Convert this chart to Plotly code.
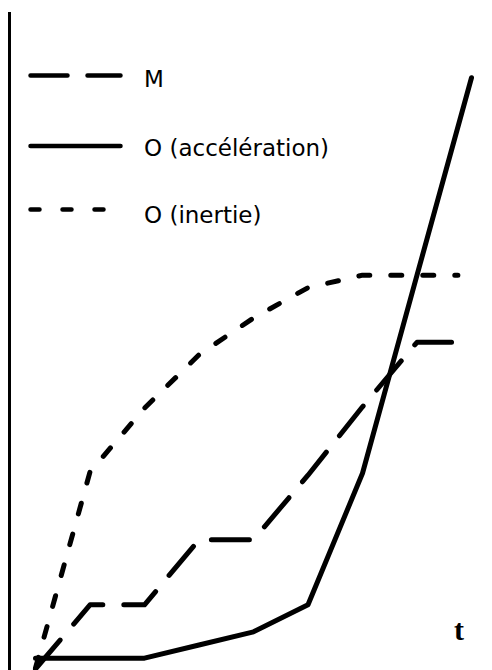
import plotly.graph_objects as go

# ---- data ----
t_accel = [0, 1, 2, 3, 4, 5, 6, 7, 8]
o_acceleration = [1.5, 1.5, 1.5, 3.5, 5.5, 9.6, 29.6, 59.7, 89.7]

t_m = [0, 1, 2, 3, 4, 5, 6, 7, 8]
m_values = [-0.15, 9.6, 9.6, 19.5, 19.5, 29.3, 39.7, 49.5, 49.5]

t_inertie = [0, 1, 2, 3, 4, 5, 6, 7, 7.75]
o_inertie = [0, 29.8, 39.5, 47.6, 53.2, 57.8, 59.7, 59.7, 59.7]

legend_labels = ["M", "O (accélération)", "O (inertie)"]
axis_label = "t"

# ---- layout helpers ----
W, H = 492, 670
ML, MR, MT, MB = 11, 0, 12, 0
PW, PH = W - ML - MR, H - MT - MB


def px(xp):
    return (xp - ML) / PW


def py(yp):
    return 1 - (yp - MT) / PH


M_DASH = "38px,21px"
I_DASH = "11px,21px"
LW = 5

fig = go.Figure()
fig.add_trace(go.Scatter(x=t_m, y=m_values, mode="lines",
                         line=dict(color="black", width=LW, dash=M_DASH),
                         name=legend_labels[0], showlegend=False))
fig.add_trace(go.Scatter(x=t_accel, y=o_acceleration, mode="lines",
                         line=dict(color="black", width=LW),
                         name=legend_labels[1], showlegend=False))
fig.add_trace(go.Scatter(x=t_inertie, y=o_inertie, mode="lines",
                         line=dict(color="black", width=LW, dash=I_DASH),
                         name=legend_labels[2], showlegend=False))

# manual legend
legend_rows = [(75.5, 78.5, "37px,20px"), (146, 146.5, "solid"), (209.5, 213.5, "9px,23px")]
shapes = []
annotations = []
for (ly, ty, dash), lab in zip(legend_rows, legend_labels):
    shapes.append(dict(type="line", xref="paper", yref="paper",
                       x0=px(30.5), x1=px(120.5), y0=py(ly), y1=py(ly),
                       line=dict(color="black", width=4.5, dash=dash)))
    annotations.append(dict(xref="paper", yref="paper", x=px(142), y=py(ty + 1),
                            xanchor="left", yanchor="middle", showarrow=False,
                            text=lab, font=dict(family="DejaVu Sans", size=23, color="black")))

annotations.append(dict(xref="paper", yref="paper", x=px(459), y=py(629),
                        xanchor="center", yanchor="middle", showarrow=False,
                        text="<b>" + axis_label + "</b>",
                        font=dict(family="Liberation Serif", size=30, color="black")))

fig.update_layout(
    width=W, height=H,
    margin=dict(l=ML, r=MR, t=MT, b=MB, pad=0),
    paper_bgcolor="white", plot_bgcolor="white",
    showlegend=False,
    shapes=shapes, annotations=annotations,
    xaxis=dict(visible=False, range=[(ML - 35.5) / 54.5, (W - 35.5) / 54.5], fixedrange=True),
    yaxis=dict(range=[(668 - 670) / 6.58, (668 - 12) / 6.58], showline=True,
               linecolor="black", linewidth=2.5, showgrid=False, zeroline=False,
               showticklabels=False, ticks="", fixedrange=True),
)

post = """
document.body.style.margin='0';
document.body.style.padding='0';
document.querySelectorAll('.js-line, .shapelayer path').forEach(function(p){
  p.style.strokeLinecap='round'; p.style.strokeLinejoin='round';
});
"""
fig.write_html("out.html", config={"displayModeBar": False}, post_script=post)
